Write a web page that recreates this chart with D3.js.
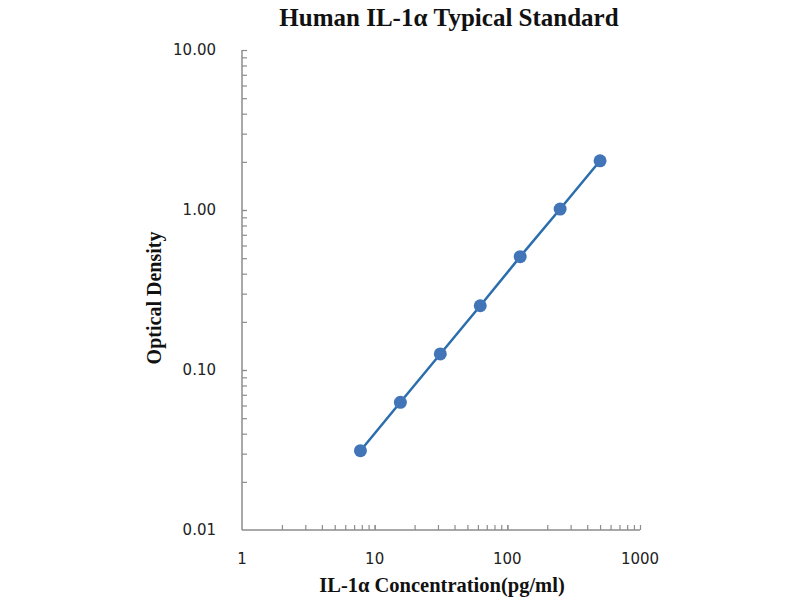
<!DOCTYPE html>
<html><head><meta charset="utf-8">
<script src="https://cdn.jsdelivr.net/npm/d3@7"></script>
<style>body{margin:0;background:#fff}</style>
</head><body>
<svg id="c" width="800" height="600"></svg>
<script>
const concentrations = [7.8125, 15.625, 31.25, 62.5, 125, 250, 500];
const odValues = [0.0313, 0.0628, 0.126, 0.252, 0.511, 1.014, 2.03];
const xTickValues = [1, 10, 100, 1000];
const xTickLabels = ["1", "10", "100", "1000"];
const yTickValues = [0.01, 0.1, 1, 10];
const yTickLabels = ["0.01", "0.10", "1.00", "10.00"];
const titleText = "Human IL-1α Typical Standard";
const xTitle = "IL-1α Concentration(pg/ml)";
const yTitle = "Optical Density";

const svg = d3.select("#c");
const L = 242, R = 640, T = 50, B = 530;
const x = d3.scaleLog().domain([1, 1000]).range([L, R]);
const y = d3.scaleLog().domain([0.01, 10]).range([B, T]);
const axisColor = "#8c8c8c";

function minors(lo, hi) {
  const out = [];
  for (let d = lo; d < hi; d *= 10) for (let k = 1; k <= 10; k++) out.push(d * k);
  return out;
}

// x axis
const gx = svg.append("g").attr("transform", `translate(0,${B})`);
gx.call(d3.axisBottom(x).tickValues(minors(1, 1000).slice(1)).tickSize(-5).tickFormat(""));
gx.select(".domain").attr("stroke", axisColor).attr("stroke-width", 1.5).attr("d", `M${L},0H${R}`);
gx.selectAll(".tick line").attr("stroke", axisColor).attr("stroke-width", 1.2);
svg.append("g").selectAll("text").data(xTickValues).join("text")
  .attr("x", d => x(d)).attr("y", B + 34)
  .attr("text-anchor", "middle")
  .attr("font-family", "DejaVu Sans").attr("font-size", 15).attr("fill", "#222")
  .text((d, i) => xTickLabels[i]);

// y axis
const gy = svg.append("g").attr("transform", `translate(${L},0)`);
gy.call(d3.axisLeft(y).tickValues(minors(0.01, 10).slice(1)).tickSize(-5).tickFormat(""));
gy.select(".domain").attr("stroke", axisColor).attr("stroke-width", 1.5).attr("d", `M0,${B}V${T}`);
gy.selectAll(".tick line").attr("stroke", axisColor).attr("stroke-width", 1.2);
svg.append("g").selectAll("text").data(yTickValues).join("text")
  .attr("x", L - 26).attr("y", d => y(d)).attr("dy", "0.35em")
  .attr("text-anchor", "end")
  .attr("font-family", "DejaVu Sans").attr("font-size", 15).attr("fill", "#222")
  .text((d, i) => yTickLabels[i]);

// line
const pts = concentrations.map((c, i) => [c, odValues[i]]);
svg.append("path").datum(pts)
  .attr("fill", "none").attr("stroke", "#2a6eae").attr("stroke-width", 2.5)
  .attr("d", d3.line().x(d => x(d[0])).y(d => y(d[1])));
svg.append("g").selectAll("circle").data(pts).join("circle")
  .attr("cx", d => x(d[0])).attr("cy", d => y(d[1])).attr("r", 6.5)
  .attr("fill", "#4275b8");

// titles
svg.append("text").attr("x", 449).attr("y", 26).attr("text-anchor", "middle")
  .attr("font-family", "Liberation Serif").attr("font-weight", "bold").attr("font-size", 25)
  .attr("fill", "#111").text(titleText);
svg.append("text").attr("x", 442).attr("y", 592).attr("text-anchor", "middle")
  .attr("font-family", "Liberation Serif").attr("font-weight", "bold").attr("font-size", 20.5)
  .attr("fill", "#111").text(xTitle);
svg.append("text").attr("transform", "translate(161,298) rotate(-90)").attr("text-anchor", "middle")
  .attr("font-family", "Liberation Serif").attr("font-weight", "bold").attr("font-size", 20)
  .attr("fill", "#111").text(yTitle);
</script>
</body></html>
